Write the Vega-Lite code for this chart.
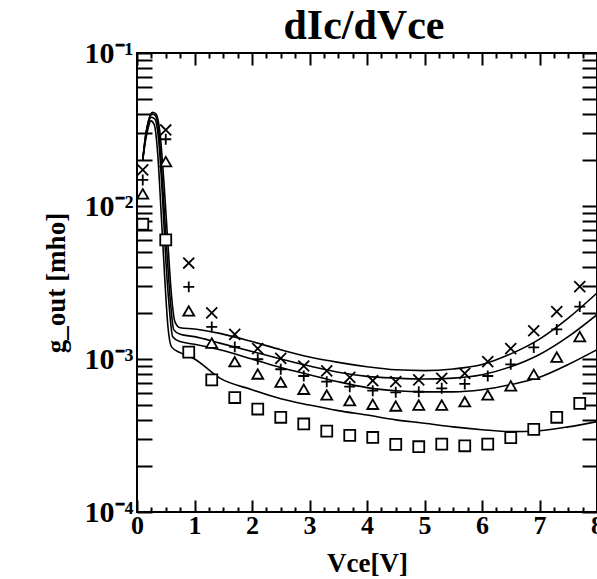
{
  "$schema": "https://vega.github.io/schema/vega-lite/v6.json",
  "width": 460,
  "height": 459,
  "autosize": "none",
  "padding": {"left": 137, "top": 53, "right": 0, "bottom": 67},
  "background": "white",
  "config": {
    "view": {"stroke": "black", "strokeWidth": 2},
    "font": "Liberation Serif"
  },
  "title": {
    "text": "dIc/dVce",
    "font": "Liberation Serif",
    "fontSize": 42,
    "fontWeight": "bold",
    "color": "black",
    "anchor": "middle",
    "frame": "group",
    "baseline": "alphabetic",
    "offset": 10,
    "dy": 53,
    "dx": -3
  },
  "datasets": {
    "measured": [
      {"V": 0.1, "g": 0.0172, "series": "x"}, {"V": 0.1, "g": 0.0148, "series": "plus"}, {"V": 0.1, "g": 0.0120, "series": "tri"}, {"V": 0.1, "g": 0.0076, "series": "sq"},
      {"V": 0.5, "g": 0.0314, "series": "x"}, {"V": 0.5, "g": 0.0273, "series": "plus"}, {"V": 0.5, "g": 0.0195, "series": "tri"}, {"V": 0.5, "g": 0.0060, "series": "sq"},
      {"V": 0.9, "g": 0.00424, "series": "x"}, {"V": 0.9, "g": 0.00296, "series": "plus"}, {"V": 0.9, "g": 0.00206, "series": "tri"}, {"V": 0.9, "g": 0.00111, "series": "sq"},
      {"V": 1.3, "g": 0.00200, "series": "x"}, {"V": 1.3, "g": 0.00162, "series": "plus"}, {"V": 1.3, "g": 0.00127, "series": "tri"}, {"V": 1.3, "g": 0.00073, "series": "sq"},
      {"V": 1.7, "g": 0.00145, "series": "x"}, {"V": 1.7, "g": 0.00120, "series": "plus"}, {"V": 1.7, "g": 0.00096, "series": "tri"}, {"V": 1.7, "g": 0.00056, "series": "sq"},
      {"V": 2.1, "g": 0.00117, "series": "x"}, {"V": 2.1, "g": 0.000996, "series": "plus"}, {"V": 2.1, "g": 0.000798, "series": "tri"}, {"V": 2.1, "g": 0.000471, "series": "sq"},
      {"V": 2.5, "g": 0.00101, "series": "x"}, {"V": 2.5, "g": 0.000857, "series": "plus"}, {"V": 2.5, "g": 0.000705, "series": "tri"}, {"V": 2.5, "g": 0.000416, "series": "sq"},
      {"V": 2.9, "g": 0.000900, "series": "x"}, {"V": 2.9, "g": 0.000774, "series": "plus"}, {"V": 2.9, "g": 0.000634, "series": "tri"}, {"V": 2.9, "g": 0.000376, "series": "sq"},
      {"V": 3.3, "g": 0.000836, "series": "x"}, {"V": 3.3, "g": 0.000711, "series": "plus"}, {"V": 3.3, "g": 0.000582, "series": "tri"}, {"V": 3.3, "g": 0.000338, "series": "sq"},
      {"V": 3.7, "g": 0.000759, "series": "x"}, {"V": 3.7, "g": 0.000659, "series": "plus"}, {"V": 3.7, "g": 0.000534, "series": "tri"}, {"V": 3.7, "g": 0.000317, "series": "sq"},
      {"V": 4.1, "g": 0.000721, "series": "x"}, {"V": 4.1, "g": 0.000621, "series": "plus"}, {"V": 4.1, "g": 0.000506, "series": "tri"}, {"V": 4.1, "g": 0.000307, "series": "sq"},
      {"V": 4.5, "g": 0.000711, "series": "x"}, {"V": 4.5, "g": 0.000606, "series": "plus"}, {"V": 4.5, "g": 0.000493, "series": "tri"}, {"V": 4.5, "g": 0.000277, "series": "sq"},
      {"V": 4.9, "g": 0.000730, "series": "x"}, {"V": 4.9, "g": 0.000611, "series": "plus"}, {"V": 4.9, "g": 0.000500, "series": "tri"}, {"V": 4.9, "g": 0.000267, "series": "sq"},
      {"V": 5.3, "g": 0.000748, "series": "x"}, {"V": 5.3, "g": 0.000643, "series": "plus"}, {"V": 5.3, "g": 0.000500, "series": "tri"}, {"V": 5.3, "g": 0.000278, "series": "sq"},
      {"V": 5.7, "g": 0.000806, "series": "x"}, {"V": 5.7, "g": 0.000687, "series": "plus"}, {"V": 5.7, "g": 0.000526, "series": "tri"}, {"V": 5.7, "g": 0.000271, "series": "sq"},
      {"V": 6.1, "g": 0.000960, "series": "x"}, {"V": 6.1, "g": 0.000774, "series": "plus"}, {"V": 6.1, "g": 0.000582, "series": "tri"}, {"V": 6.1, "g": 0.000278, "series": "sq"},
      {"V": 6.5, "g": 0.00117, "series": "x"}, {"V": 6.5, "g": 0.000923, "series": "plus"}, {"V": 6.5, "g": 0.000667, "series": "tri"}, {"V": 6.5, "g": 0.000306, "series": "sq"},
      {"V": 6.9, "g": 0.00153, "series": "x"}, {"V": 6.9, "g": 0.00119, "series": "plus"}, {"V": 6.9, "g": 0.000794, "series": "tri"}, {"V": 6.9, "g": 0.000347, "series": "sq"},
      {"V": 7.3, "g": 0.00204, "series": "x"}, {"V": 7.3, "g": 0.00156, "series": "plus"}, {"V": 7.3, "g": 0.00103, "series": "tri"}, {"V": 7.3, "g": 0.000416, "series": "sq"},
      {"V": 7.7, "g": 0.00297, "series": "x"}, {"V": 7.7, "g": 0.00220, "series": "plus"}, {"V": 7.7, "g": 0.00140, "series": "tri"}, {"V": 7.7, "g": 0.000513, "series": "sq"}
    ],
    "model": [
      {"V": 0.1, "g": 0.020, "curve": "a"}, {"V": 0.15, "g": 0.029, "curve": "a"}, {"V": 0.2, "g": 0.036, "curve": "a"}, {"V": 0.27, "g": 0.041, "curve": "a"}, {"V": 0.33, "g": 0.040, "curve": "a"}, {"V": 0.4, "g": 0.030, "curve": "a"}, {"V": 0.47, "g": 0.014, "curve": "a"}, {"V": 0.54, "g": 0.0055, "curve": "a"}, {"V": 0.6, "g": 0.0026, "curve": "a"}, {"V": 0.66, "g": 0.00175, "curve": "a"}, {"V": 0.75, "g": 0.0016, "curve": "a"}, {"V": 1.0, "g": 0.00157, "curve": "a"}, {"V": 1.44, "g": 0.00147, "curve": "a"}, {"V": 2.0, "g": 0.0013, "curve": "a"}, {"V": 2.5, "g": 0.00115, "curve": "a"}, {"V": 3.0, "g": 0.00103, "curve": "a"}, {"V": 3.5, "g": 0.00095, "curve": "a"}, {"V": 4.0, "g": 0.00089, "curve": "a"}, {"V": 4.5, "g": 0.00085, "curve": "a"}, {"V": 5.0, "g": 0.00084, "curve": "a"}, {"V": 5.5, "g": 0.00086, "curve": "a"}, {"V": 6.0, "g": 0.00092, "curve": "a"}, {"V": 6.5, "g": 0.00108, "curve": "a"}, {"V": 7.0, "g": 0.00135, "curve": "a"}, {"V": 7.5, "g": 0.00185, "curve": "a"}, {"V": 8.0, "g": 0.0027, "curve": "a"},
      {"V": 0.1, "g": 0.020, "curve": "b"}, {"V": 0.15, "g": 0.029, "curve": "b"}, {"V": 0.2, "g": 0.036, "curve": "b"}, {"V": 0.26, "g": 0.040, "curve": "b"}, {"V": 0.32, "g": 0.039, "curve": "b"}, {"V": 0.39, "g": 0.028, "curve": "b"}, {"V": 0.45, "g": 0.013, "curve": "b"}, {"V": 0.52, "g": 0.005, "curve": "b"}, {"V": 0.58, "g": 0.0024, "curve": "b"}, {"V": 0.64, "g": 0.00155, "curve": "b"}, {"V": 0.75, "g": 0.00145, "curve": "b"}, {"V": 1.0, "g": 0.0014, "curve": "b"}, {"V": 1.44, "g": 0.00127, "curve": "b"}, {"V": 2.0, "g": 0.00112, "curve": "b"}, {"V": 2.5, "g": 0.001, "curve": "b"}, {"V": 3.0, "g": 0.0009, "curve": "b"}, {"V": 3.5, "g": 0.00082, "curve": "b"}, {"V": 4.0, "g": 0.00077, "curve": "b"}, {"V": 4.5, "g": 0.00075, "curve": "b"}, {"V": 5.0, "g": 0.00074, "curve": "b"}, {"V": 5.5, "g": 0.00075, "curve": "b"}, {"V": 6.0, "g": 0.00079, "curve": "b"}, {"V": 6.5, "g": 0.00089, "curve": "b"}, {"V": 7.0, "g": 0.00107, "curve": "b"}, {"V": 7.5, "g": 0.0014, "curve": "b"}, {"V": 8.0, "g": 0.00195, "curve": "b"},
      {"V": 0.1, "g": 0.020, "curve": "c"}, {"V": 0.15, "g": 0.028, "curve": "c"}, {"V": 0.2, "g": 0.035, "curve": "c"}, {"V": 0.25, "g": 0.038, "curve": "c"}, {"V": 0.31, "g": 0.037, "curve": "c"}, {"V": 0.38, "g": 0.026, "curve": "c"}, {"V": 0.44, "g": 0.012, "curve": "c"}, {"V": 0.5, "g": 0.0045, "curve": "c"}, {"V": 0.56, "g": 0.0022, "curve": "c"}, {"V": 0.62, "g": 0.0014, "curve": "c"}, {"V": 0.75, "g": 0.0013, "curve": "c"}, {"V": 1.0, "g": 0.00125, "curve": "c"}, {"V": 1.44, "g": 0.00115, "curve": "c"}, {"V": 2.0, "g": 0.001, "curve": "c"}, {"V": 2.5, "g": 0.00088, "curve": "c"}, {"V": 3.0, "g": 0.00079, "curve": "c"}, {"V": 3.5, "g": 0.00071, "curve": "c"}, {"V": 4.0, "g": 0.00065, "curve": "c"}, {"V": 4.5, "g": 0.00062, "curve": "c"}, {"V": 5.0, "g": 0.00061, "curve": "c"}, {"V": 5.5, "g": 0.00061, "curve": "c"}, {"V": 6.0, "g": 0.00063, "curve": "c"}, {"V": 6.5, "g": 0.00068, "curve": "c"}, {"V": 7.0, "g": 0.00076, "curve": "c"}, {"V": 7.5, "g": 0.00092, "curve": "c"}, {"V": 8.0, "g": 0.00115, "curve": "c"},
      {"V": 0.1, "g": 0.020, "curve": "d"}, {"V": 0.15, "g": 0.027, "curve": "d"}, {"V": 0.2, "g": 0.033, "curve": "d"}, {"V": 0.24, "g": 0.036, "curve": "d"}, {"V": 0.3, "g": 0.034, "curve": "d"}, {"V": 0.36, "g": 0.022, "curve": "d"}, {"V": 0.42, "g": 0.009, "curve": "d"}, {"V": 0.48, "g": 0.0035, "curve": "d"}, {"V": 0.54, "g": 0.0016, "curve": "d"}, {"V": 0.6, "g": 0.0012, "curve": "d"}, {"V": 0.75, "g": 0.0011, "curve": "d"}, {"V": 1.0, "g": 0.001, "curve": "d"}, {"V": 1.44, "g": 0.00075, "curve": "d"}, {"V": 2.0, "g": 0.00063, "curve": "d"}, {"V": 2.5, "g": 0.00055, "curve": "d"}, {"V": 3.0, "g": 0.0005, "curve": "d"}, {"V": 3.5, "g": 0.00046, "curve": "d"}, {"V": 4.0, "g": 0.00043, "curve": "d"}, {"V": 4.5, "g": 0.0004, "curve": "d"}, {"V": 5.0, "g": 0.00038, "curve": "d"}, {"V": 5.5, "g": 0.00036, "curve": "d"}, {"V": 6.0, "g": 0.000345, "curve": "d"}, {"V": 6.5, "g": 0.000335, "curve": "d"}, {"V": 7.0, "g": 0.00034, "curve": "d"}, {"V": 7.5, "g": 0.00036, "curve": "d"}, {"V": 8.0, "g": 0.00039, "curve": "d"}
    ]
  },
  "layer": [
    {
      "data": {"name": "model"},
      "mark": {"type": "line", "color": "black", "strokeWidth": 1.6, "interpolate": "monotone", "clip": true},
      "encoding": {
        "x": {
          "field": "V", "type": "quantitative",
          "scale": {"domain": [0, 8], "nice": false, "zero": false},
          "axis": {
            "orient": "bottom",
            "values": [0, 0.25, 0.5, 0.75, 1, 1.25, 1.5, 1.75, 2, 2.25, 2.5, 2.75, 3, 3.25, 3.5, 3.75, 4, 4.25, 4.5, 4.75, 5, 5.25, 5.5, 5.75, 6, 6.25, 6.5, 6.75, 7, 7.25, 7.5, 7.75, 8],
            "labelExpr": "datum.value % 1 === 0 ? format(datum.value, 'd') : ''",
            "tickSize": {"condition": {"test": "datum.value % 1 === 0", "value": -12}, "value": -5},
            "tickColor": "black", "tickWidth": 2,
            "domain": false, "grid": false,
            "labelFont": "Liberation Serif", "labelFontSize": 26, "labelFontWeight": "bold", "labelColor": "black",
            "labelPadding": 12, "labelFlush": false, "labelOverlap": false,
            "title": "Vce[V]",
            "titleFont": "Liberation Serif", "titleFontSize": 27, "titleFontWeight": "bold", "titleColor": "black",
            "titlePadding": 5
          }
        },
        "y": {
          "field": "g", "type": "quantitative",
          "scale": {"type": "log", "domain": [0.0001, 0.1], "nice": false},
          "axis": {
            "orient": "left",
            "values": [0.0001, 0.0002, 0.0003, 0.0004, 0.0005, 0.0006, 0.0007, 0.0008, 0.0009, 0.001, 0.002, 0.003, 0.004, 0.005, 0.006, 0.007, 0.008, 0.009, 0.01, 0.02, 0.03, 0.04, 0.05, 0.06, 0.07, 0.08, 0.09, 0.1],
            "labelExpr": "datum.value === 0.1 ? '10⁻¹' : datum.value === 0.01 ? '10⁻²' : datum.value === 0.001 ? '10⁻³' : datum.value === 0.0001 ? '10⁻⁴' : ''",
            "tickSize": -15,
            "tickColor": "black", "tickWidth": 2,
            "domain": false, "grid": false,
            "labelFont": "Liberation Serif", "labelFontSize": 30, "labelFontWeight": "bold", "labelColor": "black",
            "labelPadding": 19, "labelOverlap": false, "labelFlush": false,
            "title": "g_out [mho]",
            "titleFont": "Liberation Serif", "titleFontSize": 27, "titleFontWeight": "bold", "titleColor": "black",
            "titlePadding": 14
          }
        },
        "detail": {"field": "curve"}
      }
    },
    {
      "data": {"name": "measured"},
      "mark": {"type": "point", "filled": true, "fill": "white", "stroke": "black", "strokeWidth": 1.8, "size": 120, "opacity": 1},
      "encoding": {
        "x": {
          "field": "V", "type": "quantitative",
          "axis": {
            "orient": "top",
            "values": [0, 0.25, 0.5, 0.75, 1, 1.25, 1.5, 1.75, 2, 2.25, 2.5, 2.75, 3, 3.25, 3.5, 3.75, 4, 4.25, 4.5, 4.75, 5, 5.25, 5.5, 5.75, 6, 6.25, 6.5, 6.75, 7, 7.25, 7.5, 7.75, 8],
            "labels": false, "title": null, "domain": false, "grid": false,
            "tickSize": {"condition": {"test": "datum.value % 1 === 0", "value": -12}, "value": -5},
            "tickColor": "black", "tickWidth": 2
          }
        },
        "y": {
          "field": "g", "type": "quantitative",
          "axis": {
            "orient": "right",
            "values": [0.0001, 0.0002, 0.0003, 0.0004, 0.0005, 0.0006, 0.0007, 0.0008, 0.0009, 0.001, 0.002, 0.003, 0.004, 0.005, 0.006, 0.007, 0.008, 0.009, 0.01, 0.02, 0.03, 0.04, 0.05, 0.06, 0.07, 0.08, 0.09, 0.1],
            "labels": false, "title": null, "domain": false, "grid": false,
            "tickSize": -15, "tickColor": "black", "tickWidth": 2
          }
        },
        "shape": {
          "field": "series", "type": "nominal",
          "scale": {
            "domain": ["x", "plus", "tri", "sq"],
            "range": ["M-1,-1L1,1M-1,1L1,-1", "M-1,0L1,0M0,-1L0,1", "triangle-up", "square"]
          },
          "legend": null
        }
      }
    }
  ],
  "resolve": {"axis": {"x": "independent", "y": "independent"}}
}
